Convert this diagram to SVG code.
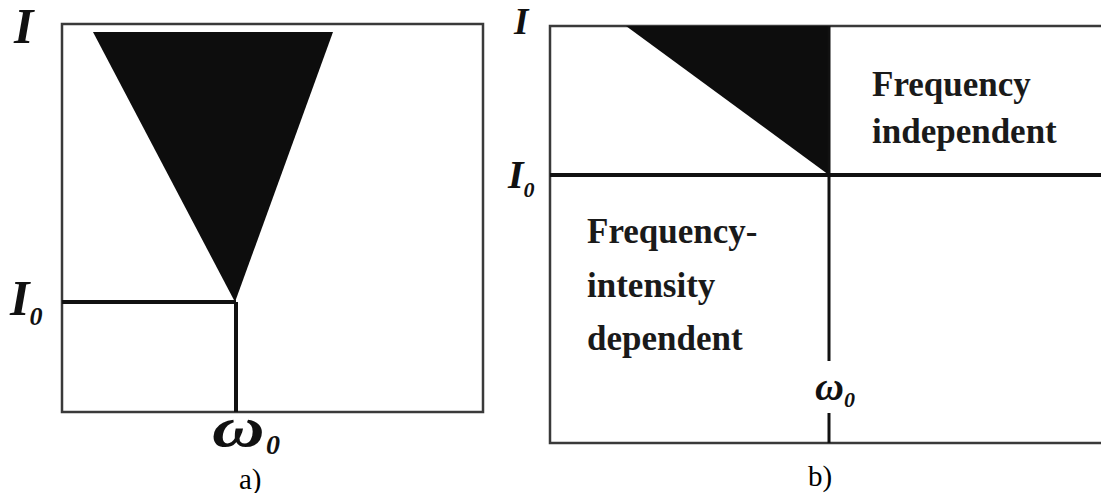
<svg xmlns="http://www.w3.org/2000/svg" width="1101" height="493" viewBox="0 0 1101 493">
<style>
.frame{fill:none;stroke:#3a3a3a;stroke-width:2.5}
.thick{stroke:#111;stroke-width:4;fill:none}
.sym{font-family:"Liberation Serif",serif;font-style:italic;font-weight:bold;fill:#111}
.lbl{font-family:"Liberation Serif",serif;font-weight:bold;fill:#1a1a1a;font-size:35px}
.cap{font-family:"Liberation Serif",serif;fill:#000;font-size:29px}
</style>
<rect width="1101" height="493" fill="#fff"/>
<g id="panel-a">
<rect class="frame" x="62" y="24" width="421" height="388"/>
<polygon points="93,32 333,32 235,302" fill="#0d0d0d"/>
<line class="thick" x1="62" y1="302" x2="236" y2="302"/>
<line class="thick" x1="236" y1="302" x2="236" y2="412"/>
<text class="sym" x="14" y="43" font-size="50">I</text>
<text class="sym" x="10" y="315" font-size="50">I<tspan font-size="26" dy="10">0</tspan></text>
<text class="sym" transform="translate(212,446) scale(1.3,1)" font-size="56">ω</text>
<text class="sym" x="266" y="454" font-size="28">0</text>
<text class="cap" x="239" y="489">a)</text>
</g>
<g id="panel-b">
<path class="frame" d="M1101,26 H550 V443 H1101"/>
<polygon points="626,26 829,26 829,175" fill="#0d0d0d"/>
<line class="thick" x1="550" y1="175" x2="1101" y2="175"/>
<line x1="829" y1="26" x2="829" y2="361" stroke="#111" stroke-width="3"/>
<line x1="829" y1="413" x2="829" y2="443" stroke="#111" stroke-width="3"/>
<text class="sym" x="514" y="34" font-size="37">I</text>
<text class="sym" x="508" y="188" font-size="40">I<tspan font-size="22" dy="9">0</tspan></text>
<text class="sym" x="815" y="400" font-size="40">ω<tspan font-size="22" dy="7">0</tspan></text>
<text class="lbl" x="872" y="96">Frequency</text>
<text class="lbl" x="872" y="143">independent</text>
<text class="lbl" x="587" y="243">Frequency-</text>
<text class="lbl" x="587" y="297">intensity</text>
<text class="lbl" x="587" y="350">dependent</text>
<text class="cap" x="808" y="486">b)</text>
</g>
</svg>
